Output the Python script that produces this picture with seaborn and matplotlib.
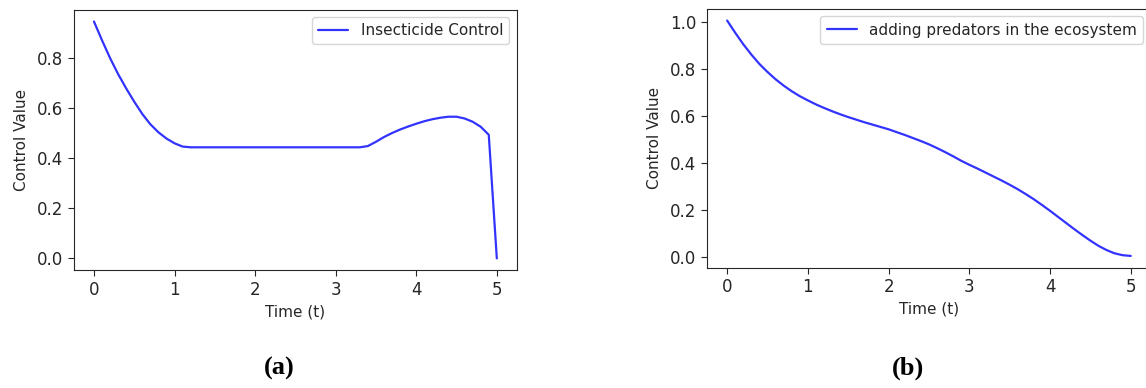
import numpy as np
import pandas as pd
import seaborn as sns
import matplotlib.pyplot as plt

# thời gian t = 0 .. 5, bước 0.1
time_t = [round(0.1 * i, 1) for i in range(51)]

# (a) insecticide control
insecticide = [
    0.945, 0.870, 0.799, 0.735, 0.678, 0.625, 0.576, 0.535, 0.503, 0.478,
    0.459, 0.446, 0.443, 0.443, 0.443, 0.443, 0.443, 0.443, 0.443, 0.443,
    0.443, 0.443, 0.443, 0.443, 0.443, 0.443, 0.443, 0.443, 0.443, 0.443,
    0.443, 0.443, 0.443, 0.443, 0.448, 0.465, 0.484, 0.500, 0.514, 0.526,
    0.537, 0.547, 0.555, 0.561, 0.565, 0.565, 0.558, 0.545, 0.525, 0.493,
    0.000,
]

# (b) adding predators
predators = [
    1.005, 0.953, 0.904, 0.860, 0.820, 0.786, 0.755, 0.728, 0.704, 0.683,
    0.665, 0.648, 0.633, 0.619, 0.606, 0.594, 0.583, 0.572, 0.562, 0.552,
    0.542, 0.530, 0.518, 0.505, 0.492, 0.478, 0.462, 0.445, 0.427, 0.408,
    0.391, 0.375, 0.358, 0.341, 0.324, 0.306, 0.287, 0.266, 0.244, 0.220,
    0.195, 0.169, 0.143, 0.117, 0.092, 0.068, 0.046, 0.028, 0.014, 0.006,
    0.003,
]

labels = ["Insecticide Control", "adding predators in the ecosystem"]
captions = ["(a)", "(b)"]

sns.set_style("ticks")
plt.rcParams.update({
    "font.family": ["DejaVu Sans"],
    "font.size": 11,
    "axes.edgecolor": "#262626",
    "text.color": "#262626",
    "axes.labelcolor": "#262626",
    "xtick.color": "#262626",
    "ytick.color": "#262626",
    "xtick.major.size": 4,
    "ytick.major.size": 4,
})

fig = plt.figure(figsize=(11.46, 3.88), dpi=100)
ax1 = fig.add_axes([0.0644, 0.3036, 0.3867, 0.6716])
ax2 = fig.add_axes([0.6169, 0.3101, 0.3874, 0.6673])

df = pd.DataFrame({"t": time_t, "a": insecticide, "b": predators})

for ax, col, lab in [(ax1, "a", labels[0]), (ax2, "b", labels[1])]:
    sns.lineplot(data=df, x="t", y=col, ax=ax, color="blue", alpha=0.8,
                 linewidth=1.6, label=lab)
    ax.set_xlabel("Time (t)", fontsize=11)
    ax.set_ylabel("Control Value", fontsize=11, labelpad=6)
    ax.tick_params(labelsize=12)
    ax.set_xticks([0, 1, 2, 3, 4, 5])
    ax.legend(loc="upper right", fontsize=11)

fig.text(0.244, 0.05, captions[0], family="Liberation Serif", weight="bold",
         fontsize=19, ha="center", va="center", color="black")
fig.text(0.792, 0.05, captions[1], family="Liberation Serif", weight="bold",
         fontsize=19, ha="center", va="center", color="black")

fig.savefig("out.png", dpi=100)
